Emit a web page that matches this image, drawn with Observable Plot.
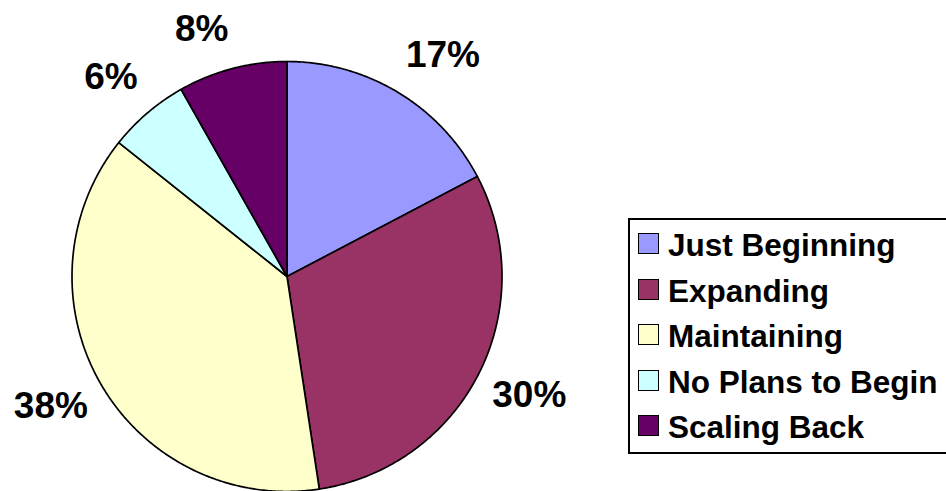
<!DOCTYPE html>
<html><head><meta charset="utf-8">
<script src="https://cdn.jsdelivr.net/npm/d3@7"></script>
<script src="https://cdn.jsdelivr.net/npm/@observablehq/plot@0.6"></script>
<style>
html,body{margin:0;padding:0;background:#fff;overflow:hidden;width:946px;height:491px;}
#chart{position:relative;width:946px;height:491px;overflow:hidden;}
#chart svg{position:absolute;left:0;top:0;}
#legend{position:absolute;left:628px;top:218px;width:340px;height:236px;border:2px solid #000;box-sizing:border-box;background:#fff;font-family:"Liberation Sans",Arial,sans-serif;font-weight:bold;font-size:31.5px;color:#000;}
.sw{position:absolute;width:21px;height:21px;border:1.6px solid #000;box-sizing:border-box;}
.tx{position:absolute;line-height:36px;white-space:nowrap;}
</style>
</head><body>
<div id="chart"></div>
<script>
const categories = ["Just Beginning", "Expanding", "Maintaining", "No Plans to Begin", "Scaling Back"];
const values = [17.3, 30.3, 38.1, 6.1, 8.2];
const colors = ["#9999FF", "#993366", "#FFFFCC", "#CCFFFF", "#660066"];
const labels = ["17%", "30%", "38%", "6%", "8%"];

const W = 946, H = 491, cx = 286.5, cy = 276, R = 215;
const font = '"Liberation Sans", Arial, sans-serif';

const arcs = d3.pie().sort(null).value(d => d)(values);
const slices = arcs.map(a => {
  const n = Math.max(2, Math.ceil((a.endAngle - a.startAngle) / (Math.PI / 360)));
  const pts = [{x: 0, y: 0}];
  for (let k = 0; k <= n; k++) {
    const t = a.startAngle + (a.endAngle - a.startAngle) * k / n;
    pts.push({x: Math.sin(t), y: Math.cos(t)});
  }
  pts.push({x: 0, y: 0});
  return pts;
});
const lr = 230 / R;
const labelData = arcs.map((a, i) => {
  const m = (a.startAngle + a.endAngle) / 2;
  return {x: lr * Math.sin(m), y: lr * Math.cos(m), text: labels[i], right: Math.sin(m) >= 0, top: Math.cos(m) > 0};
});
const textOpts = {x: "x", y: "y", text: "text", fontSize: 37, fontWeight: "bold", fontFamily: font, fill: "#000"};

const chart = Plot.plot({
  width: W, height: H, margin: 0,
  x: {domain: [-cx / R, (W - cx) / R], range: [0, W], axis: null},
  y: {domain: [-(H - cy) / R, cy / R], range: [H, 0], axis: null},
  style: {background: "transparent", overflow: "visible"},
  marks: [
    ...slices.map((pts, i) => Plot.line(pts, {x: "x", y: "y", fill: colors[i], stroke: "#000", strokeWidth: 1.7, strokeLinejoin: "round", curve: "linear"})),
    Plot.text(labelData, {...textOpts, filter: d => d.right && d.top, textAnchor: "start", lineAnchor: "bottom", dy: -13}),
    Plot.text(labelData, {...textOpts, filter: d => !d.right && d.top, textAnchor: "end", lineAnchor: "bottom", dy: -13}),
    Plot.text(labelData, {...textOpts, filter: d => d.right && !d.top, textAnchor: "start", lineAnchor: "top"}),
    Plot.text(labelData, {...textOpts, filter: d => !d.right && !d.top, textAnchor: "end", lineAnchor: "top"})
  ]
});
const host = document.getElementById("chart");
host.appendChild(chart);

const legend = document.createElement("div");
legend.id = "legend";
categories.forEach((c, i) => {
  const base = 36 + i * 45.5; // baseline relative to legend inner box
  const sw = document.createElement("div");
  sw.className = "sw";
  sw.style.left = "8px";
  sw.style.top = (base - 23) + "px";
  sw.style.background = colors[i];
  const tx = document.createElement("div");
  tx.className = "tx";
  tx.style.left = "38px";
  tx.style.top = (base - 28.8) + "px";
  tx.textContent = c;
  legend.appendChild(sw);
  legend.appendChild(tx);
});
host.appendChild(legend);
</script>
</body></html>
